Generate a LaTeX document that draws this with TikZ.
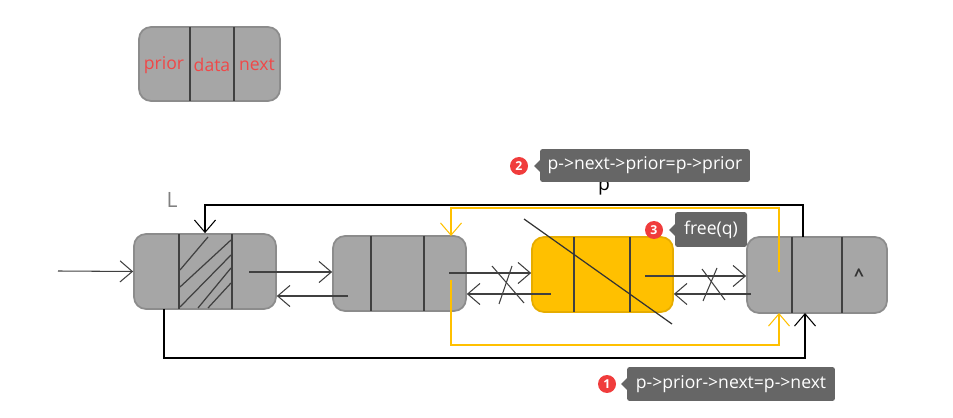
\documentclass[tikz,border=0pt]{standalone}
\usepackage{fontspec}
\setmainfont{Open Sans}
\usetikzlibrary{arrows.meta}

\definecolor{nodegray}{HTML}{A6A6A6}
\definecolor{edgegray}{HTML}{8C8C8C}
\definecolor{qyellow}{HTML}{FFC000}
\definecolor{qedge}{HTML}{E6AC00}
\definecolor{tipgray}{HTML}{666666}
\definecolor{badgered}{HTML}{F03C3C}
\definecolor{labelred}{HTML}{F04848}

\begin{document}
\begin{tikzpicture}[x=0.02cm,y=-0.02cm,
  lnode/.style={draw=edgegray, line width=1pt, fill=nodegray, rounded corners=0.24cm,
    minimum width=2.82cm, minimum height=1.5cm, inner sep=0pt},
  divider/.style={draw=black!75, line width=0.8pt},
  arr/.style={-{Straight Barb[length=7pt,width=12pt]}, line width=0.6pt},
  link/.style={arr, draw=black!75},
  ylw/.style={draw=qyellow, line width=1.2pt},
  tip/.style={fill=tipgray, text=white, rounded corners=1.5pt, inner sep=0pt,
    minimum height=0.66cm, font=\fontsize{10}{12}\selectfont},
  badge/.style={circle, fill=badgered, text=white, inner sep=0pt, minimum size=0.36cm,
    font=\fontsize{7}{8}\selectfont\bfseries}]
\useasboundingbox (0,0) rectangle (953,418);
\small
% legend box
\node[lnode, minimum width=2.82cm, minimum height=1.48cm] (legend) at (209.5,64) {};
\draw[divider] (190,27) -- (190,101);
\draw[divider] (234,27) -- (234,101);
\node[text=labelred, font=\fontsize{10}{12}\selectfont] (tprior) at (164,65) {prior};
\node[text=labelred, font=\fontsize{10}{12}\selectfont] (tdata) at (212,65) {data};
\node[text=labelred, font=\fontsize{10}{12}\selectfont] (tnext) at (257,65) {next};

% list nodes
\node[lnode, minimum width=2.84cm] (head) at (205,271.5) {};
\node[lnode, minimum width=2.66cm] (n2) at (399.5,273.5) {};
\node[lnode, minimum width=2.82cm, fill=qyellow, draw=qedge] (q) at (602.5,274.5) {};
\node[lnode, minimum width=2.80cm, minimum height=1.52cm] (n4) at (817,275) {};

\draw[divider] (179,234) -- (179,309);
\draw[divider] (232,234) -- (232,309);
\draw[divider] (371,236) -- (371,311);
\draw[divider] (424,236) -- (424,311);
\draw[divider] (574,237) -- (574,312);
\draw[divider] (630,237) -- (630,312);
\draw[divider] (792,237) -- (792,313);
\draw[divider] (842,237) -- (842,313);

% hatching of head node
\draw[black!75, line width=0.7pt] (180,270) -- (208,237);
\draw[black!75, line width=0.7pt] (180,287) -- (231,240);
\draw[black!75, line width=0.7pt] (180,307) -- (231,255);
\draw[black!75, line width=0.7pt] (198,308) -- (231,268);
\draw[black!75, line width=0.7pt] (208,308) -- (231,283);

\node[text=gray, font=\fontsize{12}{14}\selectfont] (lbl) at (172,200) {L};
\node[font=\fontsize{11}{13}\selectfont] (plbl) at (604,188) {p};
\node[text=black!80, font=\fontsize{10}{12}\selectfont\bfseries] (nil) at (859,275) {\^{}};

% links
\coordinate (in) at (58,271);
\draw[link] (in) -- (head.west);
\coordinate (h1) at (249,272);
\draw[link] (h1) -- (h1 -| n2.west);
\coordinate (b2) at (348,296);
\draw[link] (b2) -- (b2 -| head.east);
\coordinate (c2) at (449,273);
\draw[link] (c2) -- (c2 -| q.west);
\coordinate (cq) at (551,294);
\draw[link] (cq) -- (cq -| n2.east);
\coordinate (cq2) at (645,276);
\draw[link] (cq2) -- (cq2 -| n4.west);
\coordinate (c4) at (751,294);
\draw[link] (c4) -- (c4 -| q.east);

% crossed out links
\draw[black!75, line width=0.6pt] (492,266) -- (524,303);
\draw[black!75, line width=0.6pt] (512,266) -- (499,304);
\draw[black!75, line width=0.6pt] (702,269) -- (725,300);
\draw[black!75, line width=0.6pt] (717,268) -- (703,301);
\draw[black!80, line width=0.7pt] (524,219) -- (672,324);

% circular links
\coordinate (t4) at (803,237);
\draw[arr] (t4) -- (803,205) -- (205,205) -- (head.north);
\coordinate (hb) at (164,309);
\coordinate (s4) at (805,313);
\draw[arr] (hb) -- (164,358) -| (s4);

% new links around q
\coordinate (y4) at (779,272);
\coordinate (y2t) at (451,236);
\draw[ylw, arr] (y4) -- (779,208) -| (y2t);
\coordinate (y2) at (451,280);
\coordinate (y4b) at (779,313);
\draw[ylw, arr] (y2) -- (451,345) -| (y4b);

% notes
\node[tip, minimum width=4.2cm] (note2) at (645,165.5) {p->next->prior=p->prior};
\fill[tipgray] (540,160) -- (534,166) -- (540,172) -- cycle;
\node[badge] (b2n) at (519,166) {2};
\node[tip, minimum width=1.44cm, minimum height=0.7cm] (note3) at (711,229.5) {free(q)};
\fill[tipgray] (675,224) -- (669,230) -- (675,236) -- cycle;
\node[badge] (b3n) at (654,230) {3};
\node[tip, minimum width=4.16cm, minimum height=0.68cm] (note1) at (731,384) {p->prior->next=p->next};
\fill[tipgray] (627,378) -- (621,384) -- (627,390) -- cycle;
\node[badge] (b1n) at (607,384) {1};
\end{tikzpicture}
\end{document}
